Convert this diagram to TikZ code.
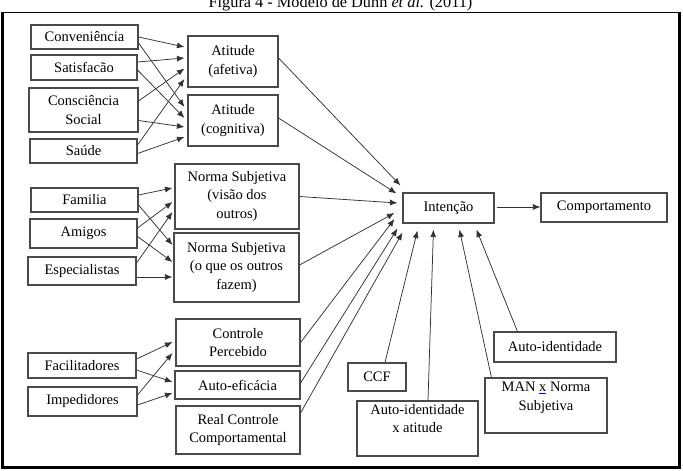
\documentclass[tikz,border=0pt]{standalone}
\usepackage{fontspec}
\setmainfont{Liberation Serif}
\usetikzlibrary{arrows.meta,calc}
\definecolor{edge}{HTML}{333333}
\definecolor{boxline}{HTML}{4A4A4A}
\tikzset{
  box/.style={draw=boxline, line width=1.1pt, align=center, inner sep=0pt,
    font=\fontsize{14.5}{18.3}\selectfont, text=black},
  arr/.style={draw=edge, line width=0.75pt, -{Latex[length=7.5pt,width=6pt]}},
  frame/.style={draw=black, line width=3pt},
}
\begin{document}
\begin{tikzpicture}[x=1pt,y=-1pt]
\useasboundingbox (0,0) rectangle (683,471);
\fill[white] (0,0) rectangle (683,471);
% title
\node[anchor=base, font=\fontsize{16.3}{18}\selectfont, inner sep=0pt] (title) at (340.5,8) {Figura 4 - Modelo de Dunn \textit{et al.} (2011)};
% frame
\draw[draw=black, line width=1.6pt] (1,12.5) -- (681,12.5);
\draw[frame] (2.5,12) -- (2.5,467.5) -- (679,467.5) -- (679,12);
% left column
\node[box, minimum width=107pt, minimum height=24pt] (conv) at (84.5,37) {Conveniência};
\node[box, minimum width=106pt, minimum height=25pt] (satis) at (84,67.5) {Satisfacão};
\node[box, minimum width=109pt, minimum height=44pt] (consc) at (83.5,110) {Consciência\\Social};
\node[box, minimum width=107pt, minimum height=24pt] (saude) at (83.5,151) {Saúde};
\node[box, minimum width=107pt, minimum height=24pt] (fam) at (84.5,200) {Familia};
\node[box, minimum width=107pt, minimum height=29pt] (amig) at (83.5,233.5) {Amigos};
\node[box, minimum width=108pt, minimum height=28pt] (espec) at (82,271) {Especialistas};
\node[box, minimum width=108pt, minimum height=25pt] (facil) at (82,365.5) {Facilitadores};
\node[box, minimum width=109pt, minimum height=29pt] (imped) at (82.5,401.5) {Impedidores};
% middle column
\node[box, minimum width=90pt, minimum height=51pt] (afet) at (233,61.5) {Atitude\\(afetiva)};
\node[box, minimum width=90pt, minimum height=51pt] (cogn) at (233,120.5) {Atitude\\(cognitiva)};
\node[box, minimum width=124pt, minimum height=65pt] (nvisao) at (237,196.5) {Norma Subjetiva\\(visão dos\\outros)};
\node[box, minimum width=125pt, minimum height=69pt] (nfazem) at (236.5,267.5) {Norma Subjetiva\\(o que os outros\\fazem)};
\node[box, minimum width=124pt, minimum height=47pt] (ctrl) at (238,342.5) {Controle\\Percebido};
\node[box, minimum width=125pt, minimum height=28pt] (autoef) at (237.5,385) {Auto-eficácia};
\node[box, minimum width=124pt, minimum height=48pt] (real) at (238,430) {Real Controle\\Comportamental};
% right part
\node[box, minimum width=91pt, minimum height=30pt] (int) at (448.5,208) {Intenção};
\node[box, minimum width=126pt, minimum height=29pt] (comp) at (604,207.5) {Comportamento};
\node[box, minimum width=122pt, minimum height=30pt] (autoid) at (555,347) {Auto-identidade};
\node[box, minimum width=58pt, minimum height=28pt] (ccf) at (377,377) {CCF};
\node[box, minimum width=121pt, minimum height=55pt] (aia) at (417.5,428.5) {Auto-identidade\\x atitude\\[2pt]};
\node[box, minimum width=122pt, minimum height=55pt] (man) at (546,405.5) {MAN \textcolor{blue}{\underline{\textcolor{black}{x}}} Norma\\Subjetiva\\\mbox{}};
% arrows to Atitude boxes
\draw[arr] (conv.east) -- ($(afet.west)+(-3,-14.5)$);
\draw[arr] ($(conv.east)+(0,6)$) -- ($(cogn.west)+(-3,-13.5)$);
\draw[arr] ($(satis.east)+(0,-5.5)$) -- ($(afet.west)+(-3,-3.5)$);
\draw[arr] ($(satis.east)+(0,2.5)$) -- ($(cogn.west)+(-3,-2.5)$);
\draw[arr] ($(consc.east)+(0,-9)$) -- ($(afet.west)+(-3,7)$);
\draw[arr] ($(consc.east)+(0,10.5)$) -- ($(cogn.west)+(-3,6.5)$);
\draw[arr] ($(saude.east)+(0,-6)$) -- ($(afet.west)+(-3,17.5)$);
\draw[arr] ($(saude.east)+(0,2.5)$) -- ($(cogn.west)+(-3,16.5)$);
% arrows to Norma boxes
\draw[arr] ($(fam.east)+(0,-5)$) -- ($(nvisao.west)+(-2,-8.5)$);
\draw[arr] ($(fam.east)+(0,5)$) -- ($(nfazem.west)+(-1,-22.5)$);
\draw[arr] ($(amig.east)+(0,-5.5)$) -- ($(nvisao.west)+(-2,5.5)$);
\draw[arr] ($(amig.east)+(0,3)$) -- ($(nfazem.west)+(-1,-5.5)$);
\draw[arr] ($(espec.east)+(0,-8)$) -- ($(nvisao.west)+(-2,15.5)$);
\draw[arr] ($(espec.east)+(0,6)$) -- ($(nfazem.west)+(-1,9.5)$);
% arrows to control boxes
\draw[arr] ($(facil.east)+(0,-6.5)$) -- ($(ctrl.west)+(-3,-0.5)$);
\draw[arr] ($(facil.east)+(0,4.5)$) -- ($(autoef.west)+(-2,-3)$);
\draw[arr] ($(imped.east)+(0,-6.5)$) -- ($(ctrl.west)+(-3,10.5)$);
\draw[arr] ($(imped.east)+(0,3.5)$) -- ($(autoef.west)+(-2,8)$);
% arrows to Intencao
\draw[arr] ($(afet.east)+(0,-3.5)$) -- ($(int.north west)+(-2,-7)$);
\draw[arr] ($(cogn.east)+(0,-2.5)$) -- ($(int.north west)+(-6,1)$);
\draw[arr] (nvisao.east) -- ($(int.west)+(-5,-5)$);
\draw[arr] ($(nfazem.east)+(0,-2.5)$) -- ($(int.west)+(-8,5)$);
\draw[arr] (ctrl.east) -- ($(int.west)+(-8,11)$);
\draw[arr] ($(autoef.east)+(0,-2)$) -- ($(int.south west)+(-5,5)$);
\draw[arr] ($(real.east)+(0,-17)$) -- ($(int.south west)+(0,9)$);
\draw[arr] ($(ccf.north)+(8,0)$) -- ($(int.south west)+(15,7)$);
\draw[arr] ($(aia.north)+(10.5,0)$) -- ($(int.south west)+(31,6)$);
\draw[arr] ($(man.north west)+(7,0)$) -- ($(int.south west)+(57,6)$);
\draw[arr] ($(autoid.north west)+(24,0)$) -- ($(int.south west)+(74,6)$);
% Intencao to Comportamento
\draw[arr] ($(int.east)+(2,-1)$) -- ($(comp.west)+(0,-0.5)$);
\end{tikzpicture}
\end{document}
